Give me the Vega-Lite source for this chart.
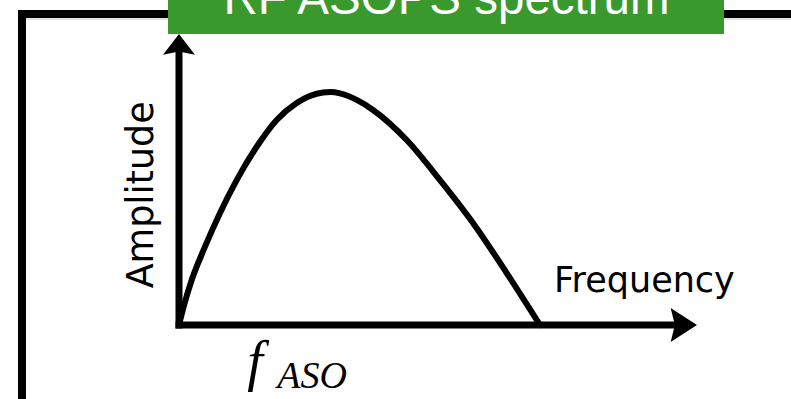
{
  "$schema": "https://vega.github.io/schema/vega-lite/v6.json",
  "width": 791,
  "height": 399,
  "padding": 0,
  "autosize": {"type": "none"},
  "background": "white",
  "config": {"view": {"stroke": null}},
  "datasets": {
    "spectrum": [
      {"freq": 0.0, "amp": 0.0},
      {"freq": 0.014, "amp": 0.085},
      {"freq": 0.0352, "amp": 0.193},
      {"freq": 0.072, "amp": 0.336},
      {"freq": 0.1136, "amp": 0.481},
      {"freq": 0.1598, "amp": 0.622},
      {"freq": 0.2152, "amp": 0.765},
      {"freq": 0.2706, "amp": 0.88},
      {"freq": 0.326, "amp": 0.953},
      {"freq": 0.3989, "amp": 0.998},
      {"freq": 0.42, "amp": 1.0},
      {"freq": 0.446, "amp": 0.994},
      {"freq": 0.4922, "amp": 0.966},
      {"freq": 0.5374, "amp": 0.923},
      {"freq": 0.6307, "amp": 0.794},
      {"freq": 0.723, "amp": 0.622},
      {"freq": 0.8144, "amp": 0.438},
      {"freq": 0.9078, "amp": 0.223},
      {"freq": 1.0, "amp": 0.0}
    ],
    "single": [{}]
  },
  "layer": [
    {
      "data": {"name": "single"},
      "mark": {"type": "rule", "color": "#c8c8c8", "strokeWidth": 1.2},
      "encoding": {
        "x": {"datum": -0.43, "type": "quantitative", "scale": {"domain": [-0.49584, 1.69529], "nice": false, "zero": false}, "axis": null},
        "x2": {"datum": 1.69529},
        "y": {"datum": 1.3133, "type": "quantitative", "scale": {"domain": [-0.317597, 1.39485], "nice": false, "zero": false}, "axis": null}
      }
    },
    {
      "data": {"name": "single"},
      "mark": {"type": "rule", "color": "black", "strokeWidth": 8, "strokeCap": "square"},
      "encoding": {
        "x": {"datum": -0.4349, "type": "quantitative", "scale": {"domain": [-0.49584, 1.69529], "nice": false, "zero": false}, "axis": null},
        "y": {"datum": -0.317597, "type": "quantitative", "scale": {"domain": [-0.317597, 1.39485], "nice": false, "zero": false}, "axis": null},
        "y2": {"datum": 1.33476}
      }
    },
    {
      "data": {"name": "single"},
      "mark": {"type": "rule", "color": "black", "strokeWidth": 8, "strokeCap": "square"},
      "encoding": {
        "x": {"datum": -0.4349, "type": "quantitative", "scale": {"domain": [-0.49584, 1.69529], "nice": false, "zero": false}, "axis": null},
        "x2": {"datum": 1.69529},
        "y": {"datum": 1.33476, "type": "quantitative", "scale": {"domain": [-0.317597, 1.39485], "nice": false, "zero": false}, "axis": null}
      }
    },
    {
      "data": {"name": "single"},
      "mark": {"type": "rect", "color": "#39992c"},
      "encoding": {
        "x": {"datum": -0.03047, "type": "quantitative", "scale": {"domain": [-0.49584, 1.69529], "nice": false, "zero": false}, "axis": null},
        "x2": {"datum": 1.5097},
        "y": {"datum": 1.24893, "type": "quantitative", "scale": {"domain": [-0.317597, 1.39485], "nice": false, "zero": false}, "axis": null},
        "y2": {"datum": 1.39485}
      }
    },
    {
      "data": {"name": "single"},
      "mark": {"type": "text", "text": "RF ASOPS spectrum", "font": "Liberation Sans", "fontSize": 47.5, "color": "white", "align": "center", "baseline": "alphabetic"},
      "encoding": {
        "x": {"datum": 0.741, "type": "quantitative", "scale": {"domain": [-0.49584, 1.69529], "nice": false, "zero": false}, "axis": null},
        "y": {"datum": 1.33476, "type": "quantitative", "scale": {"domain": [-0.317597, 1.39485], "nice": false, "zero": false}, "axis": null}
      }
    },
    {
      "data": {"name": "spectrum"},
      "mark": {"type": "line", "color": "black", "strokeWidth": 6, "interpolate": "monotone", "strokeCap": "round"},
      "encoding": {
        "x": {"field": "freq", "type": "quantitative", "scale": {"domain": [-0.49584, 1.69529], "nice": false, "zero": false}, "axis": null},
        "y": {"field": "amp", "type": "quantitative", "scale": {"domain": [-0.317597, 1.39485], "nice": false, "zero": false}, "axis": null}
      }
    },
    {
      "data": {"name": "single"},
      "mark": {"type": "rule", "color": "black", "strokeWidth": 7, "strokeCap": "square"},
      "encoding": {
        "x": {"datum": 0, "type": "quantitative", "scale": {"domain": [-0.49584, 1.69529], "nice": false, "zero": false}, "axis": null},
        "y": {"datum": 0, "type": "quantitative", "scale": {"domain": [-0.317597, 1.39485], "nice": false, "zero": false}, "axis": null},
        "y2": {"datum": 1.18026}
      }
    },
    {
      "data": {"name": "single"},
      "mark": {"type": "rule", "color": "black", "strokeWidth": 7, "strokeCap": "square"},
      "encoding": {
        "x": {"datum": 0, "type": "quantitative", "scale": {"domain": [-0.49584, 1.69529], "nice": false, "zero": false}, "axis": null},
        "x2": {"datum": 1.38781},
        "y": {"datum": 0, "type": "quantitative", "scale": {"domain": [-0.317597, 1.39485], "nice": false, "zero": false}, "axis": null}
      }
    },
    {
      "data": {"name": "single"},
      "mark": {"type": "point", "shape": "M0,-0.7L1,0.6L0,0.4L-1,0.6Z", "size": 1024, "filled": true, "color": "black", "opacity": 1, "strokeWidth": 0},
      "encoding": {
        "x": {"datum": 0, "type": "quantitative", "scale": {"domain": [-0.49584, 1.69529], "nice": false, "zero": false}, "axis": null},
        "y": {"datum": 1.20086, "type": "quantitative", "scale": {"domain": [-0.317597, 1.39485], "nice": false, "zero": false}, "axis": null}
      }
    },
    {
      "data": {"name": "single"},
      "mark": {"type": "point", "shape": "M0.8,0L-0.75,-1L-0.5,0L-0.75,1Z", "size": 1156, "filled": true, "color": "black", "opacity": 1, "strokeWidth": 0},
      "encoding": {
        "x": {"datum": 1.39723, "type": "quantitative", "scale": {"domain": [-0.49584, 1.69529], "nice": false, "zero": false}, "axis": null},
        "y": {"datum": 0, "type": "quantitative", "scale": {"domain": [-0.317597, 1.39485], "nice": false, "zero": false}, "axis": null}
      }
    },
    {
      "data": {"name": "single"},
      "mark": {"type": "text", "text": "Amplitude", "font": "DejaVu Sans", "fontSize": 36.5, "color": "black", "angle": 270, "align": "center", "baseline": "alphabetic"},
      "encoding": {
        "x": {"datum": -0.07064, "type": "quantitative", "scale": {"domain": [-0.49584, 1.69529], "nice": false, "zero": false}, "axis": null},
        "y": {"datum": 0.55858, "type": "quantitative", "scale": {"domain": [-0.317597, 1.39485], "nice": false, "zero": false}, "axis": null}
      }
    },
    {
      "data": {"name": "single"},
      "mark": {"type": "text", "text": "Frequency", "font": "DejaVu Sans", "fontSize": 35, "color": "black", "align": "left", "baseline": "alphabetic"},
      "encoding": {
        "x": {"datum": 1.03878, "type": "quantitative", "scale": {"domain": [-0.49584, 1.69529], "nice": false, "zero": false}, "axis": null},
        "y": {"datum": 0.14292, "type": "quantitative", "scale": {"domain": [-0.317597, 1.39485], "nice": false, "zero": false}, "axis": null}
      }
    },
    {
      "data": {"name": "single"},
      "mark": {"type": "text", "text": "f", "font": "Liberation Serif, DejaVu Serif, serif", "fontStyle": "italic", "fontSize": 56, "color": "black", "align": "center", "baseline": "alphabetic"},
      "encoding": {
        "x": {"datum": 0.2105, "type": "quantitative", "scale": {"domain": [-0.49584, 1.69529], "nice": false, "zero": false}, "axis": null},
        "y": {"datum": -0.23605, "type": "quantitative", "scale": {"domain": [-0.317597, 1.39485], "nice": false, "zero": false}, "axis": null}
      }
    },
    {
      "data": {"name": "single"},
      "mark": {"type": "text", "text": "ASO", "font": "Liberation Serif, DejaVu Serif, serif", "fontStyle": "italic", "fontSize": 38, "color": "black", "align": "center", "baseline": "alphabetic"},
      "encoding": {
        "x": {"datum": 0.3684, "type": "quantitative", "scale": {"domain": [-0.49584, 1.69529], "nice": false, "zero": false}, "axis": null},
        "y": {"datum": -0.27167, "type": "quantitative", "scale": {"domain": [-0.317597, 1.39485], "nice": false, "zero": false}, "axis": null}
      }
    }
  ]
}
